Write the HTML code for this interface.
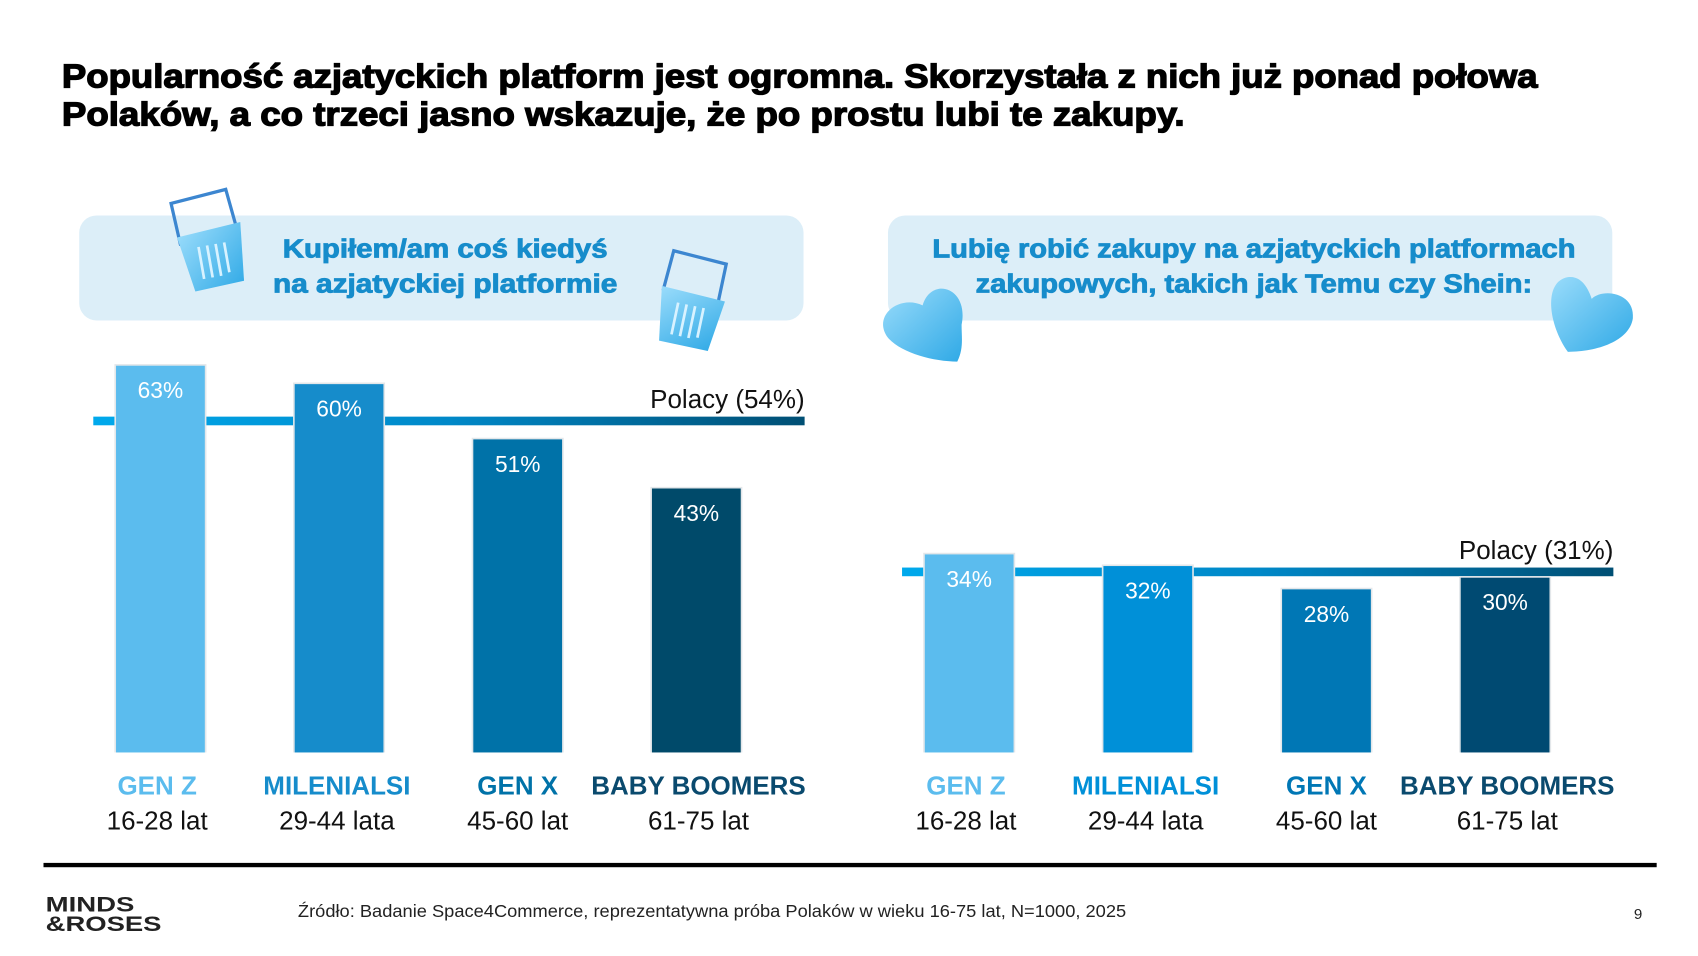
<!DOCTYPE html>
<html><head><meta charset="utf-8">
<style>
html,body{margin:0;padding:0;background:#fff;}
svg{display:block;}
text{font-family:"Liberation Sans",sans-serif;}
</style></head>
<body>
<svg id="chart" width="1698" height="956" viewBox="0 0 1568 883" xmlns="http://www.w3.org/2000/svg">
<defs>
<linearGradient id="avgGrad" x1="0" x2="1" y1="0" y2="0">
<stop offset="0" stop-color="#00a9ec"/><stop offset="0.5" stop-color="#0088c8"/><stop offset="1" stop-color="#004f74"/>
</linearGradient>
<linearGradient id="objGrad" x1="0" x2="1" y1="0" y2="1">
<stop offset="0" stop-color="#9adcfb"/><stop offset="1" stop-color="#2fa9e6"/>
</linearGradient>
</defs>
<g stroke="#000" stroke-width="1.2">
<text x="57" y="81" font-size="31" font-weight="bold" fill="#000" textLength="1363" lengthAdjust="spacingAndGlyphs">Popularność azjatyckich platform jest ogromna. Skorzystała z nich już ponad połowa</text>
<text x="57" y="116" font-size="31" font-weight="bold" fill="#000" textLength="1037" lengthAdjust="spacingAndGlyphs">Polaków, a co trzeci jasno wskazuje, że po prostu lubi te zakupy.</text>
</g>
<rect x="73" y="199" width="669" height="97" rx="16" fill="#dceef8"/>
<text font-size="24" font-weight="bold" fill="#168ccb" stroke="#168ccb" stroke-width="0.8" text-anchor="middle"><tspan x="411" y="238" textLength="300" lengthAdjust="spacingAndGlyphs">Kupiłem/am coś kiedyś</tspan><tspan x="411" y="270" textLength="318" lengthAdjust="spacingAndGlyphs">na azjatyckiej platformie</tspan></text>
<rect x="820" y="199" width="669" height="97" rx="16" fill="#dceef8"/>
<text font-size="24" font-weight="bold" fill="#168ccb" stroke="#168ccb" stroke-width="0.8" text-anchor="middle"><tspan x="1158" y="238" textLength="594" lengthAdjust="spacingAndGlyphs">Lubię robić zakupy na azjatyckich platformach</tspan><tspan x="1158" y="270" textLength="514" lengthAdjust="spacingAndGlyphs">zakupowych, takich jak Temu czy Shein:</tspan></text>
<g transform="translate(195,226) rotate(-10)">
<path d="M-28,-4 L-30,-44 L22,-48 L26,-8" fill="none" stroke="#3c86d0" stroke-width="3"/>
<path d="M-30,-12 L30,-16 L24,38 L-22,40 Z" fill="url(#objGrad)"/>
<path d="M-12,0 v30 M-4,0 v30 M4,0 v30 M12,0 v28" stroke="#d8f2ff" stroke-width="2.5"/>
</g>
<g transform="translate(638,282) rotate(12)">
<path d="M-28,-8 L-26,-46 L24,-44 L24,-6" fill="none" stroke="#3c86d0" stroke-width="3"/>
<path d="M-30,-12 L30,-10 L24,38 L-22,38 Z" fill="url(#objGrad)"/>
<path d="M-12,0 v30 M-4,0 v30 M4,0 v30 M12,0 v28" stroke="#d8f2ff" stroke-width="2.5"/>
</g>
<path d="M888,300 C895,265 860,255 852,282 C830,272 805,292 820,312 C832,326 862,334 884,334 C890,322 888,312 888,300 Z" fill="url(#objGrad)"/>
<path d="M1448,325 C1430,300 1425,260 1448,256 C1462,254 1468,270 1470,276 C1480,266 1510,270 1508,294 C1505,315 1475,325 1448,325 Z" fill="url(#objGrad)"/>
<g id="plots"></g>
<rect x="40" y="797" width="1490" height="4" fill="#000"/>
<g font-weight="bold" fill="#222">
<text x="42" y="842" font-size="20" textLength="82" lengthAdjust="spacingAndGlyphs">MINDS</text>
<text x="42" y="860" font-size="20" textLength="107" lengthAdjust="spacingAndGlyphs">&amp;ROSES</text>
</g>
<text x="275" y="847" font-size="16" fill="#222" textLength="765" lengthAdjust="spacingAndGlyphs">Źródło: Badanie Space4Commerce, reprezentatywna próba Polaków w wieku 16-75 lat, N=1000, 2025</text>
<text x="1509" y="849" font-size="14" fill="#222">9</text>
</svg>
<script>
const categories = ["GEN Z", "MILENIALSI", "GEN X", "BABY BOOMERS"];
const ageRanges = ["16-28 lat", "29-44 lata", "45-60 lat", "61-75 lat"];
const leftValues = [63, 60, 51, 43];
const rightValues = [34, 32, 28, 30];
const leftAverage = [54];
const rightAverage = [31];

const NS = "http://www.w3.org/2000/svg";
const plots = document.getElementById("plots");
function mk(tag, attrs, parent) {
  const e = document.createElementNS(NS, tag);
  for (const k in attrs) e.setAttribute(k, attrs[k]);
  parent.appendChild(e);
  return e;
}
function drawPanel(cfg) {
  const g = mk("g", {}, plots);
  
  
  const yScale = v => cfg.base - v * cfg.pxPer;
  const xScale = i => cfg.x0 + i * cfg.step;
  const avgY = yScale(cfg.avg[0]);
  const line = mk("rect", {x: cfg.lineX0, y: avgY - 4, width: cfg.lineX1 - cfg.lineX0, height: 8, fill: "url(#avgGrad)"}, g);
  
  
  const lt = mk("text", {x: cfg.lineX1, y: avgY - 12, "font-size": 24, fill: "#111", "text-anchor": "end"}, g);
  lt.textContent = "Polacy (" + cfg.avg[0] + "%)";
  
  
  cfg.values.forEach((v, i) => {
    const x = xScale(i), y = yScale(v);
    const shadow = mk("rect", {x: x - 1.5, y: y - 1.5, width: cfg.bw + 3, height: cfg.base - y + 1.5, fill: "#e3e7ea"}, g);
    
    
    const bar = mk("rect", {x: x, y: y, width: cfg.bw, height: cfg.base - y, fill: cfg.colors[i]}, g);
    
    
    const vt = mk("text", {x: x + cfg.bw / 2, y: y + 30, "font-size": 21, fill: "#fff", "text-anchor": "middle"}, g);
    vt.textContent = v + "%";
    
    
    const ct = mk("text", {x: x + cfg.bw / 2 - 3 + cfg.labelShift[i], y: 734, "font-size": 24, "font-weight": "bold", fill: cfg.labelColors[i], "text-anchor": "middle"}, g);
    ct.textContent = categories[i];
    
    
    const at = mk("text", {x: x + cfg.bw / 2 - 3 + cfg.labelShift[i], y: 766, "font-size": 24, fill: "#111", "text-anchor": "middle"}, g);
    at.textContent = ageRanges[i];
    
    
  });
}
drawPanel({name: "left-bar-chart", values: leftValues, avg: leftAverage, base: 695, pxPer: 5.67,
  x0: 107, step: 165, bw: 82, lineX0: 86, lineX1: 743, labelShift: [0, 1, 3, 5],
  colors: ["#5bbcee", "#168ccb", "#0072a8", "#004a6a"],
  labelColors: ["#5bbcee", "#168ccb", "#0072a8", "#0a4a6e"]});
drawPanel({name: "right-bar-chart", values: rightValues, avg: rightAverage, base: 695, pxPer: 5.38,
  x0: 854, step: 165, bw: 82, lineX0: 833, lineX1: 1490, labelShift: [0, 1, 3, 5],
  colors: ["#5bbcee", "#0090d8", "#0077b5", "#004a72"],
  labelColors: ["#5bbcee", "#0090d8", "#0077b5", "#0a4a6e"]});
</script>
</body></html>
